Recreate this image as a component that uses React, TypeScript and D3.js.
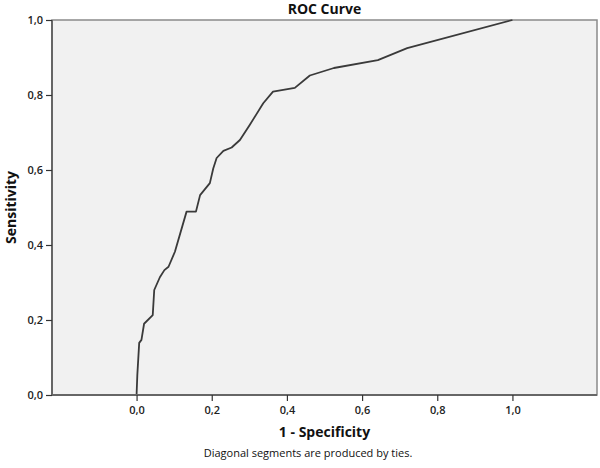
import React, { useEffect, useRef } from 'react';
import * as d3 from 'd3';

// ROC points: [1 - specificity, sensitivity]
const fpr = [0, 0.002, 0.007, 0.013, 0.02, 0.043, 0.047, 0.062, 0.074, 0.085, 0.102, 0.133, 0.158, 0.169, 0.195, 0.204, 0.213, 0.231, 0.253, 0.275, 0.301, 0.337, 0.363, 0.421, 0.461, 0.525, 0.642, 0.72, 1];
const tpr = [0, 0.053, 0.139, 0.147, 0.19, 0.213, 0.28, 0.314, 0.333, 0.342, 0.382, 0.489, 0.489, 0.533, 0.565, 0.604, 0.632, 0.651, 0.66, 0.68, 0.72, 0.778, 0.809, 0.819, 0.852, 0.872, 0.893, 0.925, 1];
const tickValues = [0, 0.2, 0.4, 0.6, 0.8, 1.0];
const fmt = (v: number) => v.toFixed(1).replace('.', ',');

const W = 600;
const H = 468;
const FONT = '"Open Sans", "DejaVu Sans", sans-serif';

export default function App() {
  const svgRef = useRef<SVGSVGElement>(null);

  useEffect(() => {
    if (!svgRef.current) return;
    const svg = d3.select(svgRef.current);
    svg.selectAll('*').remove();

    const left = 52, right = 597, top = 20, bottom = 395;

    const x = d3.scaleLinear().domain([-0.225, 1.225]).range([left, right]);
    const y = d3.scaleLinear().domain([0, 1]).range([bottom, top]);

    // plot area
    svg.append('rect')
      .attr('x', left).attr('y', top)
      .attr('width', right - left).attr('height', bottom - top)
      .attr('fill', '#f1f1f1')
      .attr('stroke', '#8a8a8a')
      .attr('stroke-width', 1.5);

    // curve
    const pts = fpr.map((f, i) => [f, tpr[i]] as [number, number]);
    svg.append('path')
      .datum(pts)
      .attr('d', d3.line<[number, number]>().x(d => x(d[0])).y(d => y(d[1])))
      .attr('fill', 'none')
      .attr('stroke', '#3a3a3a')
      .attr('stroke-width', 1.8)
      .attr('stroke-linejoin', 'round');

    // axes
    const xAxis = svg.append('g')
      .attr('transform', `translate(0,${bottom})`)
      .call(d3.axisBottom(x).tickValues(tickValues).tickFormat(d => fmt(+d)).tickSize(6).tickPadding(5));
    xAxis.select('.domain').attr('stroke', '#666').attr('stroke-width', 2);

    const yAxis = svg.append('g')
      .attr('transform', `translate(${left},0)`)
      .call(d3.axisLeft(y).tickValues(tickValues).tickFormat(d => fmt(+d)).tickSize(6).tickPadding(3));
    yAxis.select('.domain').attr('stroke', '#666').attr('stroke-width', 2);

    [xAxis, yAxis].forEach(g => {
      g.selectAll('.tick line').attr('stroke', '#333').attr('stroke-width', 1.2);
      g.selectAll('.tick text')
        .attr('fill', '#222')
        .style('font-family', FONT)
        .style('font-size', '11px')
        .style('font-weight', '600');
    });
    // the x domain line should only span the plot frame
    xAxis.select('.domain').attr('d', `M${left},0H${right}`);
    yAxis.select('.domain').attr('d', `M0,${bottom}V${top}`);

    // titles
    svg.append('text')
      .attr('x', (left + right) / 2).attr('y', 14)
      .attr('text-anchor', 'middle')
      .style('font-family', FONT).style('font-size', '14px').style('font-weight', 'bold')
      .attr('fill', '#111')
      .text('ROC Curve');

    svg.append('text')
      .attr('x', (left + right) / 2).attr('y', 437)
      .attr('text-anchor', 'middle')
      .style('font-family', FONT).style('font-size', '14px').style('font-weight', 'bold')
      .attr('fill', '#111')
      .text('1 - Specificity');

    svg.append('text')
      .attr('transform', `translate(16,${(top + bottom) / 2}) rotate(-90)`)
      .attr('text-anchor', 'middle')
      .style('font-family', FONT).style('font-size', '14px').style('font-weight', 'bold')
      .attr('fill', '#111')
      .text('Sensitivity');

    svg.append('text')
      .attr('x', 308).attr('y', 457)
      .attr('text-anchor', 'middle')
      .style('font-family', FONT).style('font-size', '11px')
      .attr('fill', '#111')
      .text('Diagonal segments are produced by ties.');
  }, []);

  return (
    <svg
      ref={svgRef}
      width={W}
      height={H}
      style={{ position: 'absolute', left: 0, top: 0, background: '#fff' }}
    />
  );
}
